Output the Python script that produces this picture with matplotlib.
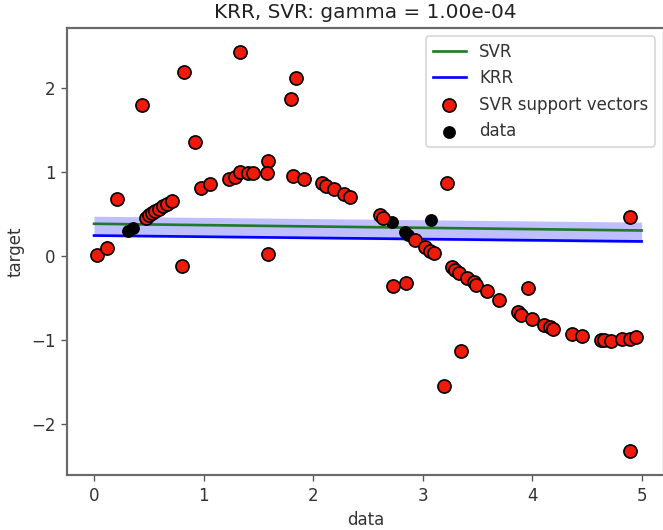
import matplotlib
matplotlib.use("Agg")
import matplotlib.pyplot as plt
import numpy as np

# Support vectors (red)
sv_x = [0.03, 0.12, 0.21, 0.44, 0.82, 1.33, 1.84, 1.80, 0.92, 0.80, 1.59, 1.59, 1.58,
        0.98, 1.06, 1.23, 1.29, 1.33, 1.41, 1.45, 1.82, 1.92, 2.08, 2.12, 2.19, 2.28, 2.34,
        0.47, 0.50, 0.53, 0.56, 0.59, 0.63, 0.67, 0.71,
        3.22, 2.61, 2.64, 2.93, 3.02, 3.07, 3.10, 4.89,
        3.27, 3.30, 3.33, 3.41, 3.47, 3.49, 3.59, 3.70, 3.87, 3.90, 3.96, 4.00,
        4.11, 4.16, 4.19, 4.36, 4.46, 4.63, 4.66, 4.72, 4.82, 4.89, 4.95,
        2.73, 2.85, 3.20, 3.35, 4.89]
sv_y = [0.01, 0.09, 0.67, 1.79, 2.19, 2.43, 2.11, 1.87, 1.35, -0.12, 0.02, 1.13, 0.98,
        0.81, 0.85, 0.91, 0.94, 1.00, 0.98, 0.98, 0.95, 0.91, 0.87, 0.83, 0.79, 0.74, 0.70,
        0.45, 0.48, 0.51, 0.53, 0.56, 0.59, 0.62, 0.65,
        0.86, 0.49, 0.45, 0.19, 0.10, 0.06, 0.03, 0.46,
        -0.13, -0.17, -0.21, -0.27, -0.31, -0.35, -0.42, -0.53, -0.67, -0.70, -0.39, -0.75,
        -0.82, -0.85, -0.87, -0.93, -0.96, -1.00, -1.00, -1.01, -0.99, -0.99, -0.97,
        -0.365, -0.325, -1.55, -1.13, -2.33]

# Data points that are not support vectors (black)
other_x = [0.31, 0.36, 2.72, 2.84, 2.87, 3.08]
other_y = [0.29, 0.33, 0.40, 0.28, 0.25, 0.42]

data_x = sv_x + other_x
data_y = sv_y + other_y

# Model predictions (straight lines at this gamma), end points
line_x = [0.0, 5.0]
svr_y = [0.38, 0.30]
krr_y = [0.24, 0.17]
band_low = [0.23, 0.155]
band_high = [0.47, 0.40]

W, H, DPI = 663, 530, 120
fig = plt.figure(figsize=(W / DPI, H / DPI), dpi=DPI)
ax = fig.add_axes([67 / W, (H - 475) / H, (663.5 - 67) / W, (475 - 28) / H])

ax.scatter(data_x, data_y, c='k', s=45, label='data', zorder=3, edgecolors=(0, 0, 0))
ax.scatter(sv_x, sv_y, c='#f01a0a', s=62, label='SVR support vectors', zorder=4,
           edgecolors=(0, 0, 0), linewidths=1.0)
ax.fill_between(line_x, band_low, band_high, color='b', alpha=0.25, lw=0, zorder=1)
ax.plot(line_x, svr_y, c='#1f7a2a', lw=1.6, label='SVR', zorder=2)
ax.plot(line_x, krr_y, c='b', lw=1.6, label='KRR', zorder=2)

ax.set_xlim(-0.247, 5.2)
ax.set_ylim(-2.61, 2.71)
ax.set_xticks([0, 1, 2, 3, 4, 5])
ax.set_yticks([-2, -1, 0, 1, 2])
ax.set_yticklabels(['\u22122', '\u22121', '0', '1', '2'])

for sp in ax.spines.values():
    sp.set_color('#6a6a6a')
    sp.set_linewidth(1.3)
ax.tick_params(colors='#555555', labelcolor='#333333', labelsize=10)

ax.set_xlabel('data', color='#333333', fontsize=10)
ax.set_ylabel('target', color='#333333', fontsize=10)
ax.set_title('KRR, SVR: gamma = 1.00e-04', color='#222222', fontsize=12)

handles, labels = ax.get_legend_handles_labels()
order = [labels.index(l) for l in ['SVR', 'KRR', 'SVR support vectors', 'data']]
leg = ax.legend([handles[i] for i in order], [labels[i] for i in order],
                loc='upper right', fontsize=10, labelcolor='#333333')

fig.savefig('out.png', dpi=DPI)
